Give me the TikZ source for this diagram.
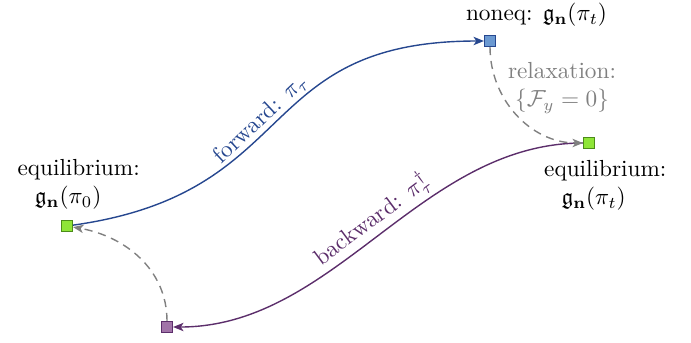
\documentclass[tikz,border=0pt]{standalone}
\usepackage{amssymb}
\usepackage{xcolor}
\usepackage{tikz}
\usetikzlibrary{positioning}
\usetikzlibrary{arrows.meta}
\definecolor{fwdblue}{rgb}{0.15,0.28,0.56}
\definecolor{neqfill}{rgb}{0.42,0.60,0.82}
\definecolor{eqfill}{rgb}{0.56,0.90,0.22}
\definecolor{eqdraw}{rgb}{0.30,0.55,0.10}
\definecolor{bwdpurple}{rgb}{0.36,0.18,0.42}
\definecolor{bwdfill}{rgb}{0.63,0.45,0.66}
\definecolor{relaxgray}{rgb}{0.5,0.5,0.5}

\begin{document}
\begin{tikzpicture}[
	x=0.43pt, y=-0.43pt,
  >={Stealth[length=4.5pt,width=3.6pt,inset=1.2pt]},
  state/.style={rectangle,draw,minimum size=4.6pt,inner sep=0pt,semithick},
  relax/.style={relaxgray,semithick,dash pattern=on 3.5pt off 2.5pt,->},
  edgelab/.style={sloped,above,inner sep=1pt},
	align=left]
  \useasboundingbox (0,0) rectangle (691,342);
  \node[state,fill=eqfill,draw=eqdraw] (eq0) at (67,226) {};
  \node[state,fill=neqfill,draw=fwdblue] (neq) at (490,41) {};
  \node[state,fill=eqfill,draw=eqdraw] (eqt) at (589,143) {};
  \node[state,fill=bwdfill,draw=bwdpurple] (bwd) at (167,327) {};
  % labels
  \node[above=1pt of eq0,xshift=5pt] (eq0lab) {equilibrium:\\\hspace*{7.5pt}$\mathfrak{g}_{\mathbf{n}}(\pi_0)$};
  \node[above=0pt of neq,xshift=20pt] (neqlab) {noneq: $\mathfrak{g}_{\mathbf{n}}(\pi_t)$};
  \node[below=1.5pt of eqt,xshift=7pt] (eqtlab) {equilibrium:\\\hspace*{7.5pt}$\mathfrak{g}_{\mathbf{n}}(\pi_t)$};
  \node[relaxgray,align=center] (relaxlab) at (562,88) {relaxation:\\$\{\mathcal{F}_y=0\}$};
  % paths
  \draw[fwdblue,semithick,->] (eq0) to[out=8,in=180,distance=100pt]
    node[edgelab,pos=0.47] {forward: $\pi_\tau$} (neq);
  \draw[bwdpurple,semithick,->] (eqt) to[out=180,in=0,distance=70pt]
    node[edgelab,pos=0.49] {backward: $\pi_\tau^\dagger$} (bwd);
  \draw[relax] (neq) to[out=-90,in=180] (eqt);
  \draw[relax] (bwd) to[out=90,in=-10] (eq0);
\end{tikzpicture}
\end{document}
